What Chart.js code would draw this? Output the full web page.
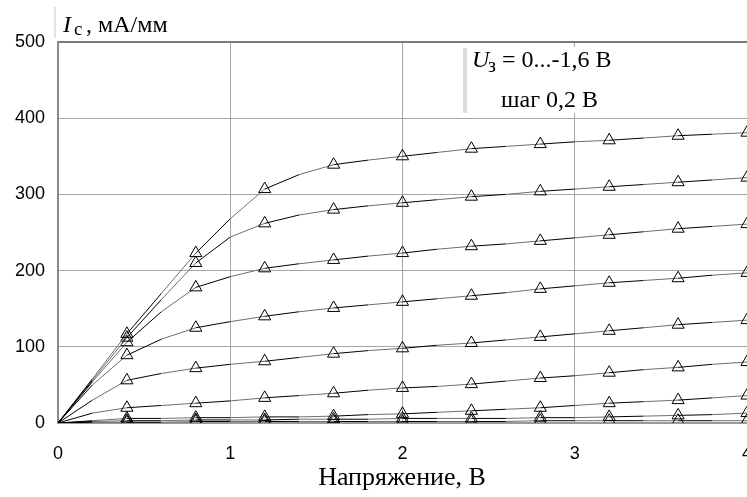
<!DOCTYPE html>
<html>
<head>
<meta charset="utf-8">
<script src="https://cdn.jsdelivr.net/npm/chart.js@4/dist/chart.umd.min.js"></script>
<style>
  html, body { margin: 0; padding: 0; background: #fff; overflow: hidden; }
  #wrap { position: absolute; left: 0; top: 0; width: 772px; height: 497px; }
</style>
</head>
<body>
<div id="wrap"><canvas id="chart" width="772" height="497"></canvas></div>
<script>
// Drain voltage steps, V
const voltages = [0, 0.2, 0.4, 0.6, 0.8, 1.0, 1.2, 1.4, 1.6, 1.8, 2.0, 2.2, 2.4, 2.6, 2.8, 3.0, 3.2, 3.4, 3.6, 3.8, 4.0];

// Drain current, mA/mm, for gate voltage 0 ... -1.6 V
const ug0   = [0, 58, 117, 170, 223, 268, 307, 326, 339, 345, 350, 355, 360, 363, 366, 369, 371, 374, 377, 379, 381];
const ug02  = [0, 56, 112, 162, 210, 244, 262, 273, 280, 285, 289, 293, 297, 300, 304, 307, 310, 313, 316, 319, 322];
const ug04  = [0, 54, 106, 146, 178, 192, 203, 209, 214, 219, 223, 228, 232, 235, 239, 243, 247, 251, 255, 258, 261];
const ug06  = [0, 50, 89, 110, 125, 133, 140, 146, 151, 155, 159, 163, 167, 171, 176, 180, 184, 187, 190, 194, 197];
const ug08  = [0, 30, 56, 65, 72, 77, 81, 86, 91, 95, 98, 102, 105, 109, 113, 117, 121, 125, 129, 132, 135];
const ug10  = [0, 13, 20, 23, 26, 29, 33, 36, 39, 43, 46, 48, 51, 55, 59, 62, 66, 70, 73, 77, 80];
const ug12  = [0, 3, 6, 6, 7, 7, 8, 8, 9, 11, 12, 14, 16, 18, 20, 23, 26, 28, 30, 33, 36];
const ug14  = [0, 2, 3, 3, 4, 4, 4, 5, 5, 5, 6, 6, 6, 6, 7, 7, 8, 9, 10, 11, 13];
const ug16  = [0, 1, 1, 1, 2, 2, 2, 2, 2, 2, 2, 2, 2, 2, 3, 3, 3, 3, 3, 3, 3];

const seriesList = [ug0, ug02, ug04, ug06, ug08, ug10, ug12, ug14, ug16];
const xTicks = [0, 1, 2, 3, 4];
const yTicks = [0, 100, 200, 300, 400, 500];

// markers every 0.4 V, not at the origin
const markerRadius = voltages.map((v, i) => (i > 0 && i % 2 === 0) ? 7 : 0);

const datasets = seriesList.map(vals => ({
    data: vals.map((y, i) => ({ x: voltages[i], y: y })),
    borderColor: '#000',
    borderWidth: 1,
    segment: {
        borderColor: ctx => ctx.p0DataIndex % 2 ? '#6e6e6e' : '#000'
    },
    tension: 0,
    pointStyle: 'triangle',
    pointRadius: markerRadius,
    pointHoverRadius: markerRadius,
    pointBorderColor: '#000',
    pointBackgroundColor: 'rgba(0,0,0,0)',
    pointBorderWidth: 1
}));

// annotations: axis titles and the gate voltage note
const labelsPlugin = {
    id: 'labels',
    afterDraw(chart) {
        const c = chart.ctx;
        c.save();
        c.textBaseline = 'alphabetic';

        // y title with light bar
        c.fillStyle = '#e2e2e2';
        c.fillRect(54, 7, 2, 31);
        c.fillStyle = '#000';
        c.font = 'italic 24px "Liberation Serif"';
        c.fillText('I', 63, 32);
        c.font = '19px "Liberation Serif"';
        c.fillText('с', 74, 35);
        c.font = '24px "Liberation Serif"';
        c.fillText(', мА/мм', 86, 32);

        // note box
        c.fillStyle = '#fff';
        c.fillRect(463, 47, 180, 66);
        c.fillStyle = '#dcdcdc';
        c.fillRect(463, 48, 4, 65);
        c.fillStyle = '#000';
        c.font = 'italic 24px "Liberation Serif"';
        c.fillText('U', 472, 67);
        c.font = '20px "Liberation Serif"';
        c.fillText('з', 488, 72);
        c.font = '24px "Liberation Serif"';
        c.fillText('= 0...-1,6 В', 502, 67);
        c.fillText('шаг 0,2 В', 501, 107);

        // x title
        c.font = '26px "Liberation Serif"';
        c.textAlign = 'center';
        c.fillText('Напряжение, В', 402, 485);
        c.restore();
    }
};

new Chart(document.getElementById('chart'), {
    type: 'line',
    data: { datasets: datasets },
    options: {
        responsive: false,
        animation: false,
        events: [],
        layout: { padding: { top: 42, left: 0, right: 0, bottom: 0 } },
        plugins: {
            legend: { display: false },
            tooltip: { enabled: false },
            title: { display: false }
        },
        scales: {
            x: {
                type: 'linear',
                min: 0,
                max: 4,
                afterFit: s => { s.height = 74; },
                afterBuildTicks: s => { s.ticks = xTicks.map(v => ({ value: v })); },
                ticks: {
                    padding: 20,
                    color: '#000',
                    font: { family: '"Liberation Sans", Arial', size: 18 },
                    maxRotation: 0
                },
                grid: {
                    drawTicks: false,
                    color: ctx => (ctx.tick && (ctx.tick.value === 0 || ctx.tick.value === 4)) ? 'rgba(0,0,0,0)' : '#a6a6a6',
                    lineWidth: 1
                },
                border: { display: true, color: '#9a9a9a', width: 2 }
            },
            y: {
                min: 0,
                max: 500,
                afterFit: s => { s.width = 58; },
                afterBuildTicks: s => { s.ticks = yTicks.map(v => ({ value: v })); },
                ticks: {
                    padding: 13,
                    color: '#000',
                    font: { family: '"Liberation Sans", Arial', size: 18 }
                },
                grid: {
                    drawTicks: false,
                    color: ctx => {
                        if (!ctx.tick) return '#a6a6a6';
                        if (ctx.tick.value === 500) return '#7a7a7a';
                        if (ctx.tick.value === 0) return 'rgba(0,0,0,0)';
                        return '#a6a6a6';
                    },
                    lineWidth: ctx => (ctx.tick && ctx.tick.value === 500) ? 2 : 1
                },
                border: { display: true, color: '#8a8a8a', width: 2 }
            }
        }
    },
    plugins: [labelsPlugin]
});
</script>
</body>
</html>
